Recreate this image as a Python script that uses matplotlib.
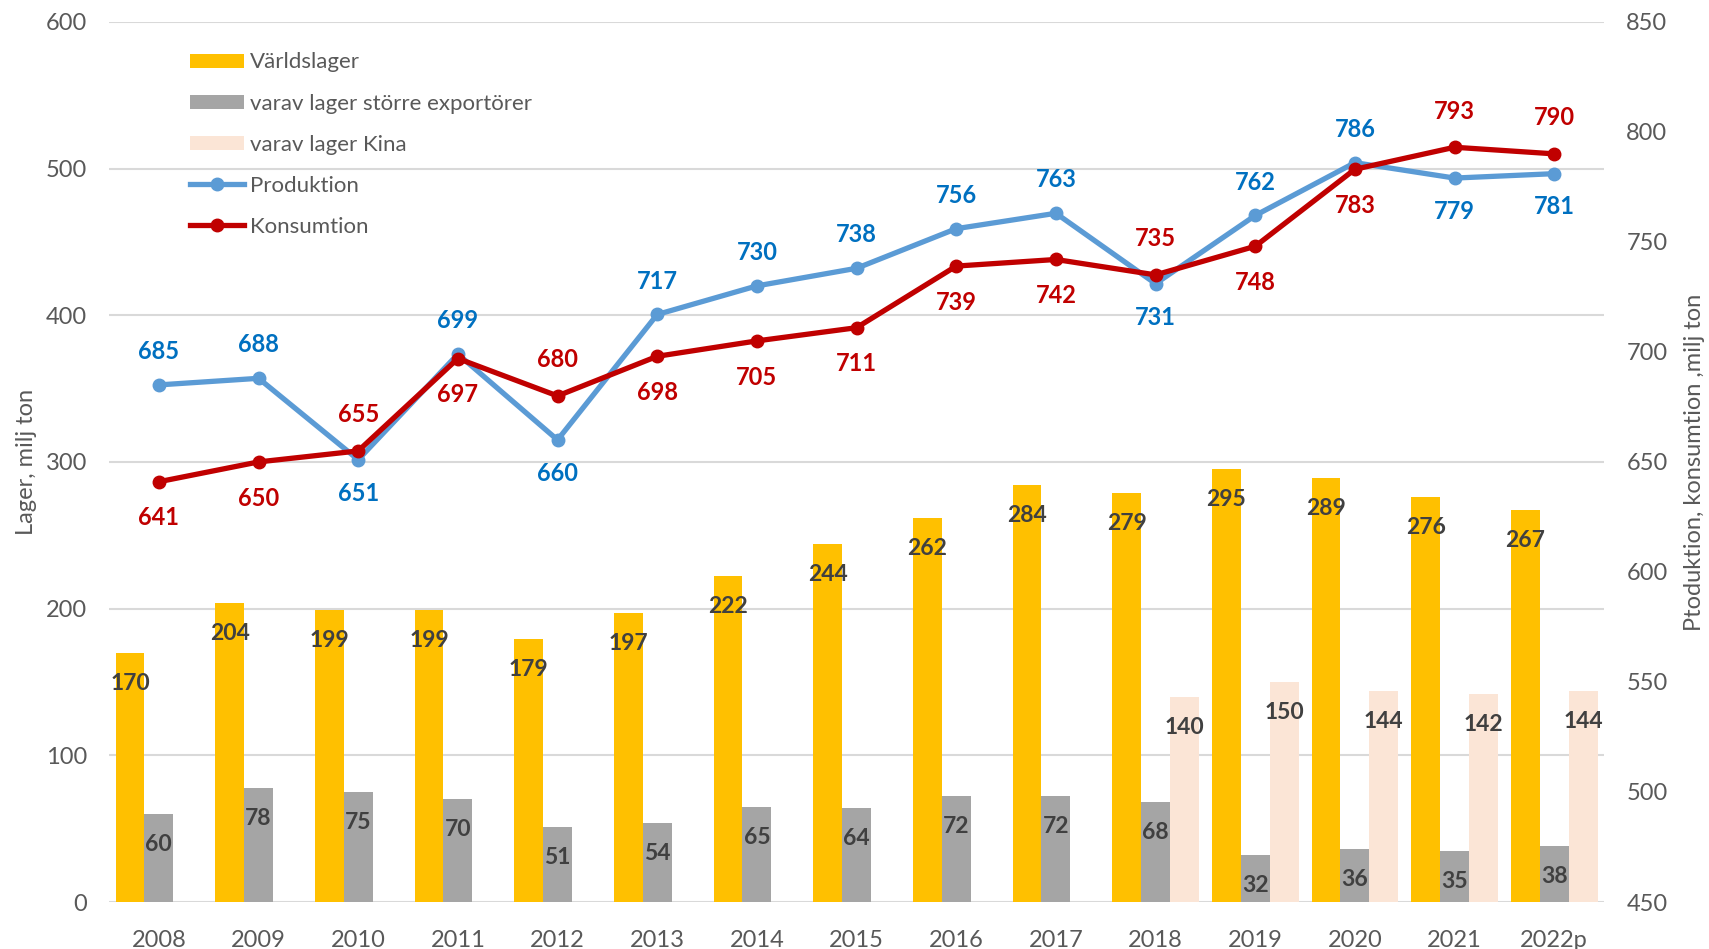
import matplotlib.pyplot as plt
import numpy as np

plt.rcParams["font.family"] = ["Lato", "DejaVu Sans"]

# Data
years = ["2008", "2009", "2010", "2011", "2012", "2013", "2014", "2015",
         "2016", "2017", "2018", "2019", "2020", "2021", "2022p"]
varldslager = [170, 204, 199, 199, 179, 197, 222, 244, 262, 284, 279, 295, 289, 276, 267]
exportorer = [60, 78, 75, 70, 51, 54, 65, 64, 72, 72, 68, 32, 36, 35, 38]
kina = [np.nan] * 10 + [140, 150, 144, 142, 144]
produktion = [685, 688, 651, 699, 660, 717, 730, 738, 756, 763, 731, 762, 786, 779, 781]
konsumtion = [641, 650, 655, 697, 680, 698, 705, 711, 739, 742, 735, 748, 783, 793, 790]
# label above (1) or below (-1) the point
prod_side = [1, 1, -1, 1, -1, 1, 1, 1, 1, 1, -1, 1, 1, -1, -1]
kons_side = [-1, -1, 1, -1, 1, -1, -1, -1, -1, -1, 1, -1, -1, 1, 1]

YELLOW = "#FFC000"
GRAY = "#A5A5A5"
PINK = "#FBE5D6"
BLUE = "#5B9BD5"
RED = "#C00000"
TXT = "#595959"

fig = plt.figure(figsize=(17.09, 9.49), dpi=100)
ax = fig.add_axes([0.0638, 0.0495, 0.8748, 0.9275])
ax2 = ax.twinx()

x = np.arange(len(years))
w = 0.29
b1 = ax.bar(x - w, varldslager, w, color=YELLOW, label="Världslager", zorder=2)
b2 = ax.bar(x, exportorer, w, color=GRAY, label="varav lager större exportörer", zorder=2)
b3 = ax.bar(x + w, kina, w, color=PINK, label="varav lager Kina", zorder=2)

for xs, vals in [(x - w, varldslager), (x, exportorer), (x + w, kina)]:
    for xi, v in zip(xs, vals):
        if np.isnan(v):
            continue
        ax.annotate(f"{v:.0f}", (xi, v), xytext=(0, -22), textcoords="offset points",
                    ha="center", va="center", fontsize=16.5, fontweight="bold",
                    color="#404040", zorder=3)

ax.set_ylim(0, 600)
ax.set_yticks(range(0, 601, 100))
ax.set_xlim(-0.5, len(years) - 0.5)
ax.set_xticks(x)
ax.set_xticklabels(years)
ax.yaxis.grid(True, color="#D9D9D9", linewidth=1.5, zorder=0)
ax.set_axisbelow(True)
for s in ax.spines.values():
    s.set_visible(False)
for s in ax2.spines.values():
    s.set_visible(False)
ax.tick_params(axis="both", length=0, labelsize=17, colors=TXT)
ax.tick_params(axis="y", pad=16)
ax.tick_params(axis="x", pad=20)
ax.set_ylabel("Lager, milj ton", fontsize=17, color=TXT, labelpad=6)

l1, = ax2.plot(x, produktion, color=BLUE, lw=3.8, marker="o", ms=9, label="Produktion", zorder=4)
l2, = ax2.plot(x, konsumtion, color=RED, lw=3.8, marker="o", ms=9, label="Konsumtion", zorder=5)
for xi, v, s in zip(x, produktion, prod_side):
    ax2.annotate(str(v), (xi, v), xytext=(0, 24 * s), textcoords="offset points",
                 ha="center", va="center", fontsize=17, fontweight="bold", color="#0070C0")
for xi, v, s in zip(x, konsumtion, kons_side):
    ax2.annotate(str(v), (xi, v), xytext=(0, 26 * s), textcoords="offset points",
                 ha="center", va="center", fontsize=17, fontweight="bold", color=RED)

ax2.set_ylim(450, 850)
ax2.set_yticks(range(450, 851, 50))
ax2.tick_params(axis="y", length=0, labelsize=17, colors=TXT, pad=16)
ax2.set_ylabel("Ptoduktion, konsumtion ,milj ton", fontsize=17, color=TXT, labelpad=12)

leg = ax.legend(handles=[b1, b2, b3, l1, l2], loc="upper left", bbox_to_anchor=(0.041, 0.988),
                frameon=False, fontsize=16, handlelength=2.4, handleheight=0.6,
                labelspacing=0.95, handletextpad=0.3)
for t in leg.get_texts():
    t.set_color(TXT)

fig.savefig("out.png", dpi=100)
